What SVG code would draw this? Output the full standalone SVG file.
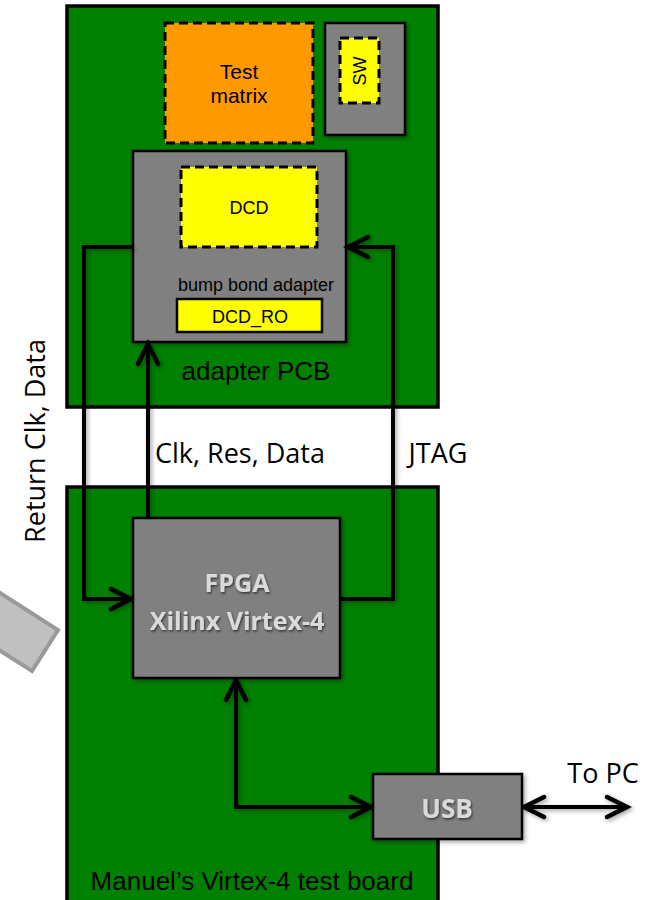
<svg xmlns="http://www.w3.org/2000/svg" width="656" height="900" viewBox="0 0 656 900">
<style>
.board{fill:#008000;stroke:#000;stroke-width:3.5}
.chip{fill:#808080;stroke:#000;stroke-width:2.5}
.dash{stroke:#000;stroke-width:3;stroke-dasharray:9 5}
.yel{fill:#ffff00}
.sans{font-family:"Liberation Sans",Arial,sans-serif;fill:#000}
.cal{font-family:"Open Sans","Noto Sans",sans-serif;fill:#000}
.bold{font-family:"Open Sans","Noto Sans",sans-serif;font-weight:bold;fill:#dadada}
.wire{fill:none;stroke:#000;stroke-width:4;stroke-linejoin:miter}
</style>
<defs>
<marker id="arr" markerUnits="userSpaceOnUse" markerWidth="30" markerHeight="30" viewBox="-25 -15 30 30" refX="0" refY="0" orient="auto-start-reverse">
<path d="M-20,-10 L0,0 L-20,10" fill="none" stroke="#000" stroke-width="4.5" stroke-linecap="round" stroke-linejoin="miter"/>
</marker>
<filter id="sh" x="-20%" y="-20%" width="140%" height="140%">
<feDropShadow dx="2" dy="2" stdDeviation="2" flood-color="#000" flood-opacity="0.35"/>
</filter>
<filter id="tsh" x="-20%" y="-20%" width="140%" height="140%">
<feDropShadow dx="1" dy="1.5" stdDeviation="1" flood-color="#000" flood-opacity="0.6"/>
</filter>
</defs>

<g id="tilted-shape">
<polygon points="58,630 32,671 -68,607 -42,566" fill="#c0c0c0" stroke="#999" stroke-width="4"/>
</g>

<g id="adapter-pcb">
<rect class="board" x="67" y="6" width="371" height="401"/>
<text class="sans" x="256" y="380" font-size="26" text-anchor="middle">adapter PCB</text>
</g>

<g id="test-board">
<rect class="board" x="67" y="487" width="371" height="420"/>
<text class="sans" x="252" y="890" font-size="26" text-anchor="middle">Manuel’s Virtex-4 test board</text>
</g>

<g id="test-matrix">
<rect x="165" y="23" width="148" height="120" fill="#ff9900" class="dash"/>
<text class="sans" x="239" y="79" font-size="21" text-anchor="middle">Test</text>
<text class="sans" x="239" y="103" font-size="21" text-anchor="middle">matrix</text>
</g>

<g id="sw-box">
<rect class="chip" x="325" y="23" width="80" height="112" filter="url(#sh)"/>
<rect class="yel dash" x="340" y="38" width="39" height="65"/>
<text class="sans" transform="translate(366,71) rotate(-90)" font-size="18" text-anchor="middle">SW</text>
</g>

<g id="bump-bond-adapter">
<rect class="chip" x="133" y="151" width="213" height="191" filter="url(#sh)"/>
<text class="sans" x="256" y="291" font-size="18" text-anchor="middle">bump bond adapter</text>
</g>

<g id="dcd">
<rect class="yel dash" x="181" y="167" width="136" height="80"/>
<text class="sans" x="249" y="214" font-size="18" text-anchor="middle">DCD</text>
</g>

<g id="dcd-ro">
<rect x="177" y="299" width="145" height="33" fill="#ffff00" stroke="#000" stroke-width="2.5"/>
<text class="sans" x="250" y="323" font-size="18" text-anchor="middle">DCD_RO</text>
</g>

<g id="connectors" filter="url(#sh)">
<path class="wire" d="M133,247 H84 V599 H131" marker-end="url(#arr)"/>
<path class="wire" d="M148,518 V344" marker-end="url(#arr)"/>
<path class="wire" d="M340,599 H393 V247 H348" marker-end="url(#arr)"/>
<path class="wire" d="M236,680 V807 H371" marker-start="url(#arr)" marker-end="url(#arr)"/>
<path class="wire" d="M524,807 H627" marker-start="url(#arr)" marker-end="url(#arr)"/>
</g>

<g id="fpga">
<rect class="chip" x="133" y="518" width="207" height="160" filter="url(#sh)"/>
<text class="bold" x="237" y="592" font-size="25" text-anchor="middle" filter="url(#tsh)">FPGA</text>
<text class="bold" x="237" y="630" font-size="25" text-anchor="middle" filter="url(#tsh)">Xilinx Virtex-4</text>
</g>

<g id="usb">
<rect class="chip" x="373" y="774" width="149" height="65" filter="url(#sh)"/>
<text class="bold" x="447" y="818" font-size="26" text-anchor="middle" filter="url(#tsh)">USB</text>
</g>

<g id="labels">
<text class="cal" x="240" y="463" font-size="27" text-anchor="middle">Clk, Res, Data</text>
<text class="cal" x="438" y="463" font-size="27" text-anchor="middle">JTAG</text>
<text class="cal" x="603" y="783" font-size="27" text-anchor="middle">To PC</text>
<text class="cal" transform="translate(45,441) rotate(-90)" font-size="27" text-anchor="middle">Return Clk, Data</text>
</g>
</svg>
